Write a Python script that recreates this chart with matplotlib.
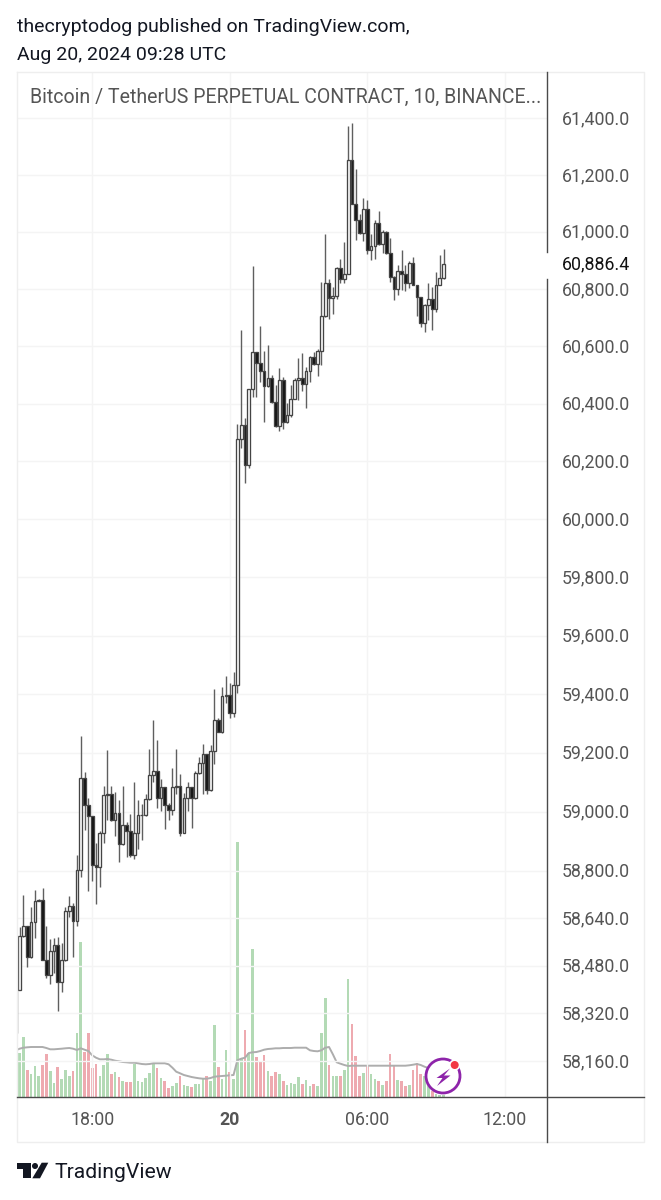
import numpy as np
import matplotlib
matplotlib.use("Agg")
import matplotlib.pyplot as plt
from matplotlib.patches import Polygon, Circle, Arc
from matplotlib.ticker import NullFormatter, NullLocator
from matplotlib.transforms import ScaledTranslation

plt.rcParams["font.family"] = ["Roboto", "DejaVu Sans"]

# BTCUSDT perpetual, 10-minute bars starting 14:40 on Aug 19
first_open = 58255
closes = [58398, 58579, 58613, 58510, 58628, 58698, 58700, 58499, 58448, 58528,
          58549, 58426, 58499, 58664, 58680, 58631, 58804, 59114, 59024, 58986,
          58819, 58811, 58927, 59056, 59061, 58971, 58995, 58891, 58955, 58936,
          58853, 58927, 58989, 58989, 59044, 59126, 59139, 59045, 59082, 59021,
          59004, 59085, 59086, 58929, 59045, 59082, 59047, 59132, 59164, 59196,
          59074, 59207, 59313, 59271, 59395, 59397, 59334, 59432, 60279, 60326,
          60186, 60450, 60581, 60540, 60515, 60461, 60489, 60407, 60323, 60484,
          60338, 60361, 60415, 60484, 60489, 60468, 60515, 60561, 60538, 60584,
          60707, 60821, 60767, 60775, 60874, 60836, 60853, 61251, 61099, 61043,
          60997, 61081, 60937, 60951, 61032, 60958, 60998, 60926, 60842, 60798,
          60862, 60851, 60819, 60892, 60813, 60771, 60682, 60744, 60766, 60729,
          60815, 60837, 60886.4]
highs = [58398, 58611, 58717, 58613, 58678, 58736, 58703, 58740, 58613, 58568,
         58572, 58575, 58555, 58678, 58714, 58691, 58853, 59258, 59135, 59047,
         58986, 58893, 58936, 59087, 59208, 59087, 59067, 59041, 59087, 58966,
         58992, 59101, 59041, 59027, 59059, 59212, 59313, 59245, 59111, 59082,
         59030, 59148, 59214, 59127, 59064, 59101, 59082, 59139, 59185, 59231,
         59196, 59227, 59417, 59320, 59426, 59461, 59439, 59474, 60330, 60658,
         60352, 60450, 60880, 60581, 60670, 60584, 60603, 60500, 60465, 60525,
         60494, 60404, 60465, 60489, 60558, 60575, 60529, 60566, 60581, 60589,
         60825, 60992, 60833, 60807, 60877, 60905, 60965, 61372, 61381, 61219,
         61064, 61119, 61113, 60993, 61041, 61072, 61006, 61004, 60977, 60844,
         60882, 60936, 60882, 60896, 60913, 60813, 60773, 60748, 60821, 60807,
         60859, 60917, 60940]
lows = [58250, 58398, 58577, 58476, 58504, 58572, 58698, 58499, 58437, 58418,
        58454, 58329, 58392, 58496, 58644, 58510, 58613, 58779, 58939, 58733,
        58766, 58689, 58745, 58895, 58973, 58967, 58918, 58830, 58887, 58847,
        58847, 58838, 58875, 58904, 58986, 59041, 59099, 59012, 59001, 58941,
        58971, 58989, 59059, 58918, 58927, 59001, 58946, 59044, 59129, 59059,
        59059, 59070, 59162, 59271, 59269, 59368, 59320, 59322, 59404, 60245,
        60124, 60176, 60424, 60424, 60476, 60338, 60459, 60404, 60321, 60307,
        60311, 60332, 60355, 60415, 60413, 60445, 60386, 60476, 60535, 60497,
        60535, 60702, 60696, 60711, 60764, 60819, 60819, 60853, 61096, 60972,
        60993, 60969, 60923, 60900, 60905, 60954, 60926, 60923, 60825, 60761,
        60779, 60796, 60792, 60802, 60813, 60704, 60667, 60651, 60690, 60658,
        60719, 60813, 60836]
opens = [first_open] + closes[:-1]

# Relative volume per bar; rising bars are green, falling bars red
volume = [26.7, 44.3, 60, 26.7, 23.3, 31, 21.3, 32, 43.3, 26,
          14.3, 30.3, 17.7, 27.3, 21.3, 26, 64.3, 155, 45.3, 63.7,
          28.7, 32.7, 21.3, 32, 42.7, 22.7, 25.3, 20, 15.7, 15,
          15, 33.3, 15.7, 15, 19.3, 24, 33.3, 29.3, 18.7, 15.7,
          8.7, 10.7, 13.7, 21, 12, 11, 10, 12.7, 13, 18.7,
          20.7, 15.7, 71.7, 30, 18, 46.7, 25.3, 18, 255, 39.3,
          67, 44.3, 148, 40.3, 35, 41.7, 26, 21.3, 24.7, 22.7,
          16, 12.3, 14, 13, 20, 12.7, 17, 11, 12.7, 10.7,
          63.7, 99, 32.3, 21, 21.3, 21.3, 26.7, 118, 72.7, 41,
          21, 23.7, 31.7, 22.7, 17.7, 16, 11.7, 15.7, 42.7, 31.7,
          17.3, 16, 11.3, 12, 27, 33.7, 22.7, 21, 12.7, 6,
          2.7, 2, 1.7]
volume_ma = [46.7, 48.3, 49.3, 49.7, 50, 50, 50, 50, 49, 47.7,
             47.7, 48, 48.3, 48.7, 49, 48.3, 47, 48.7, 47.3, 46,
             41.7, 39.3, 37.7, 37.7, 38, 37.3, 36.3, 35.7, 35, 34.7,
             34.3, 34.3, 33.7, 33, 32.7, 33, 33.7, 33.7, 33.7, 33.7,
             32.7, 29.3, 25.3, 23.7, 22, 21, 20, 19.3, 18.7, 18.3,
             18.3, 19, 20.3, 20.7, 21, 21.3, 21.7, 22, 36.7, 38.3,
             39.3, 44, 44.7, 45, 46, 47.3, 48, 48.3, 48.7, 48.7,
             49, 49, 49, 49.3, 49.3, 49.3, 49.3, 46.7, 46, 45.7,
             46.7, 49.3, 50, 42.7, 34.7, 33.3, 32, 31, 31.3, 31.3,
             31.3, 31.3, 31.3, 31.3, 31.3, 31.3, 31.3, 31.3, 31.3, 31.3,
             31.3, 31.3, 31.3, 31.7, 32.3, 33, 32, 30.3, 29, 28.7,
             28.7, 28.7, 28.7]

price_ticks = [61400, 61200, 61000, 60800, 60600, 60400, 60200, 60000, 59800,
               59600, 59400, 59200, 59000, 58800, 58640, 58480, 58320, 58160]
time_ticks = [20, 56, 92, 128]
time_labels = ["18:00", "20", "06:00", "12:00"]
last_price = 60886.4

W, H = 661, 1200
TEXT = "#131722"
AXIS_TEXT = "#555555"
AXIS_LINE = "#4a4a4a"
GRID = "#f4f4f4"
PANE_L, PANE_R, PANE_T, PANE_B = 16.5, 547, 72, 1097
BOX_R, BOX_B = 644, 1142

fig = plt.figure(figsize=(W / 100, H / 100), dpi=100, facecolor="white")
rect = [PANE_L / W, 1 - PANE_B / H, (PANE_R - PANE_L) / W, (PANE_B - PANE_T) / H]

# Volume sits in its own pane behind the candles
vol_ax = fig.add_axes(rect, zorder=1)
ax = fig.add_axes(rect, zorder=2, sharex=vol_ax)
ax.patch.set_visible(False)

# Logarithmic price scale
ax.set_yscale("log")
ax.set_ylim(58040, 61563)

x = np.arange(len(closes))
ax.set_xlim((PANE_L - 15.8) / 3.82, (PANE_R - 15.8) / 3.82)

o, c, h, l = map(np.array, (opens, closes, highs, lows))
up = c >= o
ax.vlines(x, l, h, color="#5f5f5f", lw=1.0, zorder=3)
ax.bar(x, np.abs(c - o), bottom=np.minimum(o, c), width=0.72,
       color=np.where(up, "white", "#111111"), edgecolor="#444444", lw=0.95, zorder=4)

vol = np.array(volume)
vol_ax.set_ylim(0, PANE_B - PANE_T)
vol_ax.bar(x, vol, width=0.7, color=np.where(up, "#b3dab5", "#eeaab0"), lw=0, zorder=2)
vol_ax.plot(x, volume_ma, color="#adadad", lw=1.4, zorder=3)
vol_ax.axis("off")

ax.set_xticks(time_ticks, time_labels)
ax.set_yticks(price_ticks, [f"{p:,.1f}" for p in price_ticks])
ax.yaxis.set_minor_locator(NullLocator())
ax.yaxis.set_minor_formatter(NullFormatter())
ax.grid(True, color=GRID, lw=1.0, zorder=0)
ax.set_axisbelow(True)
ax.tick_params(axis="both", length=0, labelcolor=AXIS_TEXT, labelsize=12.8)
ax.yaxis.tick_right()
ax.tick_params(axis="y", pad=10.9)
ax.tick_params(axis="x", pad=10.3)
for label in ax.get_xticklabels():
    if label.get_text() == "20":
        label.set_fontweight("bold")
raise_labels = ScaledTranslation(0, 1 / 100, fig.dpi_scale_trans)
for label in ax.get_yticklabels():
    label.set_transform(label.get_transform() + raise_labels)
for spine in ax.spines.values():
    spine.set_visible(False)

# Page furniture is laid out in pixel coordinates
frame = fig.add_axes([0, 0, 1, 1], zorder=5)
frame.set_xlim(0, W)
frame.set_ylim(H, 0)
frame.axis("off")

frame.plot([PANE_L, BOX_R, BOX_R, PANE_L, PANE_L], [PANE_T, PANE_T, BOX_B, BOX_B, PANE_T],
           color="#eeeeee", lw=1.0)
frame.plot([PANE_L, BOX_R], [PANE_B, PANE_B], color=AXIS_LINE, lw=1.0)
frame.plot([PANE_R, PANE_R], [PANE_T, 252], color=AXIS_LINE, lw=1.0)
frame.plot([PANE_R, PANE_R], [279, BOX_B], color=AXIS_LINE, lw=1.0)

frame.text(562, 264, f"{last_price:,.1f}", fontsize=12.8, color="#111111", va="center")
frame.text(30, 97, "Bitcoin / TetherUS PERPETUAL CONTRACT, 10, BINANCE...", fontsize=14.05,
           color=AXIS_TEXT, va="center")
frame.text(17, 27, "thecryptodog published on TradingView.com,", fontsize=14,
           color=TEXT, va="center")
frame.text(17, 54.5, "Aug 20, 2024 09:28 UTC", fontsize=14, color=TEXT, va="center")

# TradingView wordmark
frame.add_patch(Polygon([(16.7, 1162.7), (31, 1162.7), (31, 1178.3), (22.7, 1178.3),
                         (22.7, 1169.3), (16.7, 1169.3)], color=TEXT, lw=0))
frame.add_patch(Circle((35, 1166), 3, color=TEXT, lw=0))
frame.add_patch(Polygon([(48.3, 1162.7), (41.7, 1162.7), (32.3, 1178.3), (40, 1178.3)],
                        color=TEXT, lw=0))
frame.text(54, 1172.5, "TradingView", fontsize=15.2, color=TEXT, va="center")

# Lightning badge over the volume pane
frame.add_patch(Circle((443, 1076), 18, facecolor="white", edgecolor="none"))
frame.add_patch(Arc((443, 1076), 34, 34, theta1=0, theta2=360, color="#8e24aa", lw=2))
frame.add_patch(Polygon([(450, 1068.5), (436.5, 1078), (442.5, 1078), (437, 1086),
                         (450.5, 1075.5), (444, 1075.5)], color="#8e24aa", lw=0))
frame.add_patch(Circle((454.7, 1065), 5.6, color="white", lw=0))
frame.add_patch(Circle((454.7, 1065), 4, color="#f23645", lw=0))

fig.savefig("out.png", dpi=100)
